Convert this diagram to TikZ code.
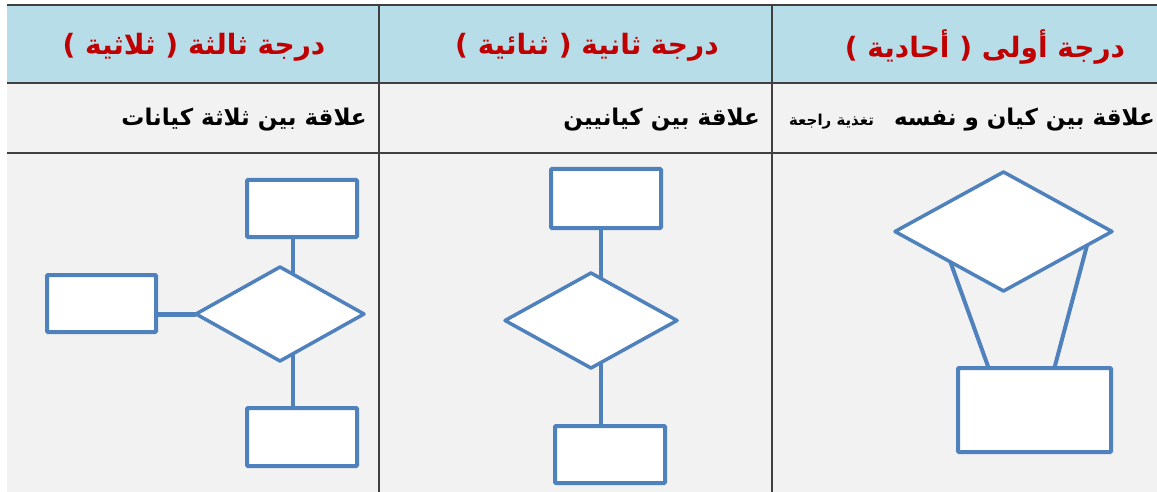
\documentclass[tikz,border=0pt]{standalone}
\usepackage{fontspec}
\newfontfamily\arabicfont[Script=Arabic]{DejaVu Sans}
\TeXXeTstate=1
\usetikzlibrary{shapes.geometric,calc}
\pgfdeclarelayer{table}
\pgfdeclarelayer{links}
\pgfsetlayers{table,links,main}
\definecolor{headblue}{HTML}{B7DDE8}
\definecolor{rowgrey}{HTML}{F2F2F2}
\definecolor{titlered}{HTML}{C00000}
\definecolor{shapeblue}{HTML}{4F81BD}
\definecolor{gridline}{HTML}{404040}
\tikzset{
  entity/.style={draw=shapeblue, fill=white, line width=4pt, rectangle, rounded corners=1pt, inner sep=0pt, outer sep=0pt},
  relation/.style={draw=shapeblue, fill=white, line width=3.5pt, diamond, line join=round, inner sep=0pt, outer sep=0pt},
  link/.style={draw=shapeblue, line width=4pt},
  headtext/.style={text=titlered, font=\arabicfont\bfseries\fontsize{28}{32}\selectfont, inner sep=0pt},
  rowtext/.style={text=black, font=\arabicfont\bfseries\fontsize{23}{26}\selectfont, inner sep=0pt, anchor=east},
  grid/.style={draw=gridline, line width=1.5pt}
}
\begin{document}
\begin{tikzpicture}[x=1pt,y=-1pt]
\useasboundingbox (0,0) rectangle (1157,492);
\begin{pgfonlayer}{table}
  \fill[white] (0,0) rectangle (1157,492);
  \fill[headblue] (7,5) rectangle (1157,83);
  \fill[rowgrey] (7,83) rectangle (1157,492);
  \draw[grid] (7,5) -- (1157,5);
  \draw[grid] (7,83) -- (1157,83);
  \draw[grid] (7,153) -- (1157,153);
  \draw[grid] (379,5) -- (379,492);
  \draw[grid] (772,5) -- (772,492);
\end{pgfonlayer}

% headers
\node[headtext] (h1) at (194,47) {\beginR درجة ثالثة ( ثلاثية )\endR};
\node[headtext] (h2) at (587,47) {\beginR درجة ثانية ( ثنائية )\endR};
\node[headtext] (h3) at (985,47) {\beginR درجة أولى ( أحادية )\endR};

% descriptions
\node[rowtext] (s1) at (367,120) {\beginR علاقة بين ثلاثة كيانات\endR};
\node[rowtext] (s2) at (760,120) {\beginR علاقة بين كيانيين\endR};
\node[rowtext] (s3) at (1155,120) {\beginR علاقة بين كيان و نفسه\hspace{20pt}{\fontsize{15}{17}\selectfont تغذية راجعة}\endR};

% ternary
\node[entity, minimum width=110pt, minimum height=57pt] (t1) at (302,208.5) {};
\node[entity, minimum width=109pt, minimum height=57pt] (l1) at (101.5,303.5) {};
\node[relation, minimum width=168pt, minimum height=94pt] (d1) at (280,314) {};
\node[entity, minimum width=110pt, minimum height=58pt] (b1) at (302,437) {};
\coordinate (k1) at (293,0);

% binary
\node[entity, minimum width=110pt, minimum height=59pt] (t2) at (606,198.5) {};
\node[relation, minimum width=172pt, minimum height=95pt] (d2) at (591,320.5) {};
\node[entity, minimum width=110pt, minimum height=57pt] (b2) at (610,454.5) {};
\coordinate (k2) at (601,0);

% unary
\node[relation, minimum width=217pt, minimum height=119pt] (d3) at (1003.5,231.5) {};
\node[entity, minimum width=153pt, minimum height=84pt] (r3) at (1034.5,410) {};

\begin{pgfonlayer}{links}
  \draw[link] (t1.south -| k1) -- (d1.center -| k1);
  \draw[link] (d1.center -| k1) -- (b1.north -| k1);
  \draw[link, line width=5pt] (l1.east |- d1.west) -- (d1.west);
  \draw[link] (t2.south -| k2) -- (d2.center -| k2);
  \draw[link] (d2.center -| k2) -- (b2.north -| k2);
  \draw[link] ($(d3.west)!0.51!(d3.south)$) -- ($(r3.north west)!0.2!(r3.north east)$);
  \draw[link] ($(d3.east)!0.23!(d3.south)$) -- ($(r3.north west)!0.63!(r3.north east)$);
\end{pgfonlayer}
\end{tikzpicture}
\end{document}
